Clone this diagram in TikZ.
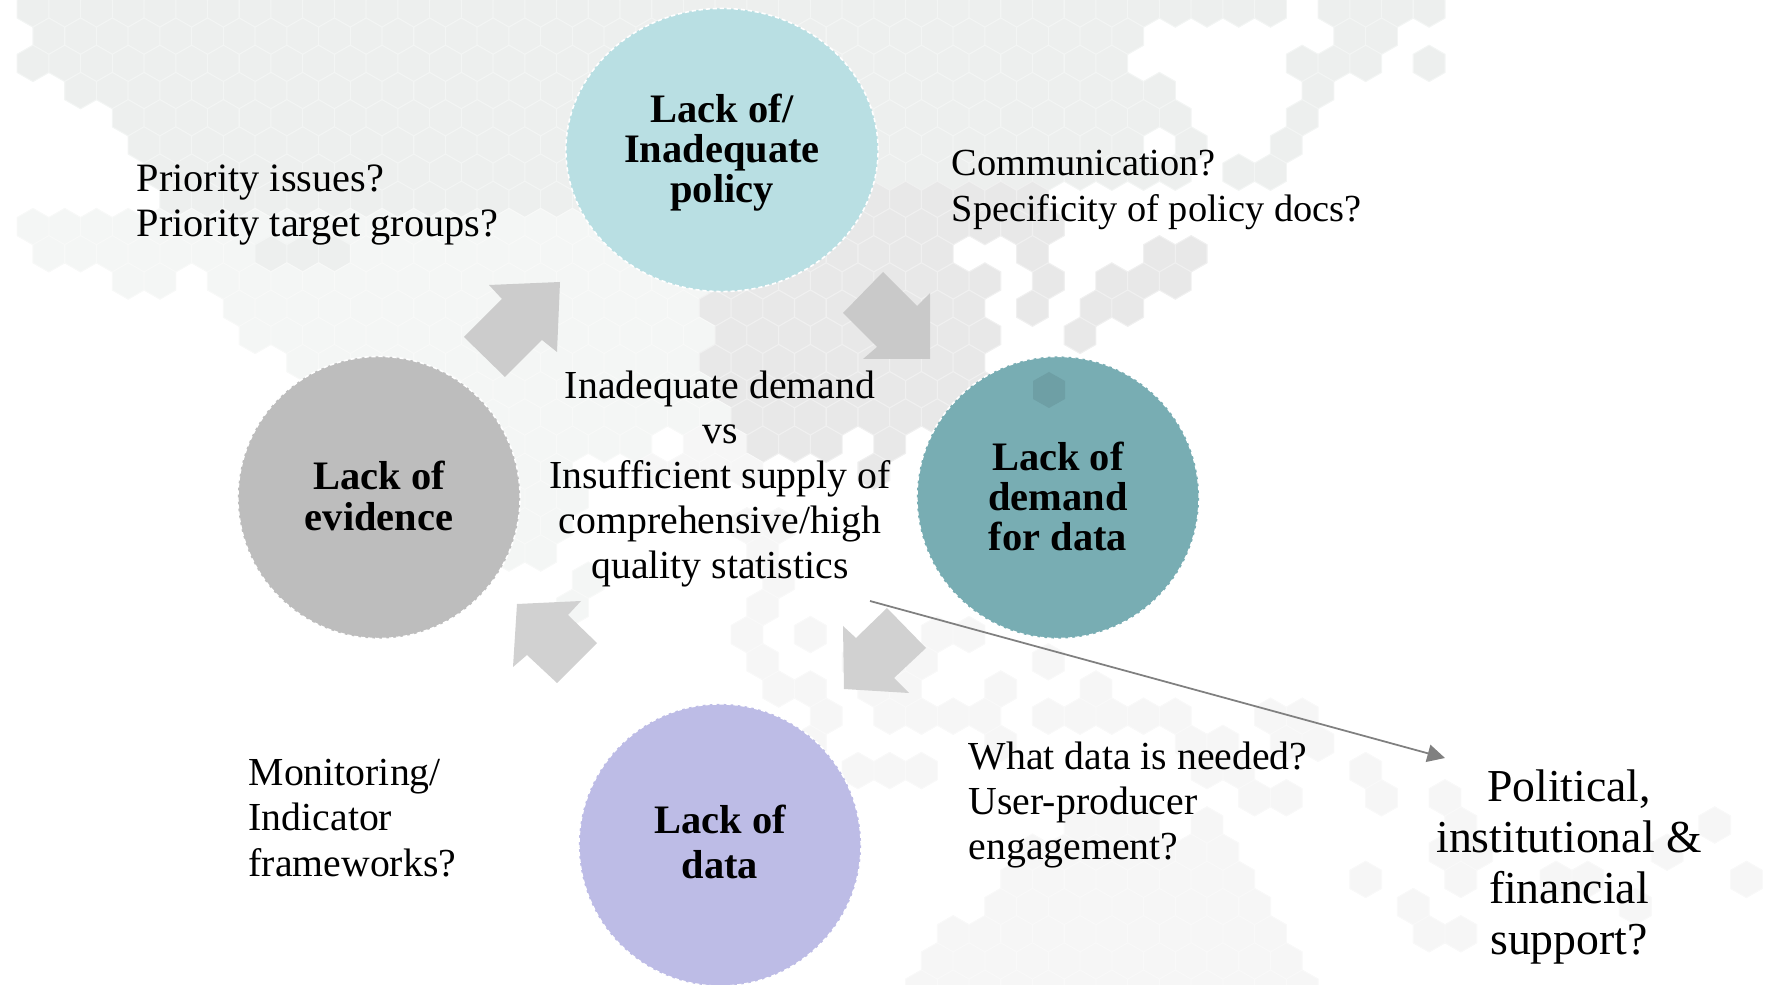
\documentclass[tikz,border=0pt]{standalone}
\usepackage{fontspec}
\setmainfont{Liberation Serif}
\usetikzlibrary{arrows.meta,shapes.geometric}
\definecolor{hexA}{HTML}{EDEFEE}
\definecolor{hexB}{HTML}{F4F6F5}
\definecolor{hexC}{HTML}{E8E8E8}
\definecolor{hexD}{HTML}{F6F6F6}
\definecolor{policyfill}{HTML}{B9DFE3}
\definecolor{demandfill}{HTML}{78ADB3}
\definecolor{datafill}{HTML}{BDBCE6}
\definecolor{evidencefill}{HTML}{BDBDBD}
\tikzset{
  hexcell/.pic = {
    \path[fill=#1, draw=#1!65!white, line width=0.3pt]
      (0,18.2) -- (15.87,9.1) -- (15.87,-9.1) -- (0,-18.2) -- (-15.87,-9.1) -- (-15.87,9.1) -- cycle;
  },
  lackcircle/.style = {ellipse, inner sep=0pt, align=center, draw=white, dash pattern=on 1.2pt off 0.8pt,
    line width=0.45pt, font=\fontsize{11.5}{11.5}\selectfont\bfseries},
  asktext/.style = {inner sep=0pt, anchor=west, align=left, font=\fontsize{11.3}{12.85}\selectfont},
  blockarrow/.style = {draw=none}
}
\begin{document}
\begin{tikzpicture}[x=0.01cm, y=-0.01cm]
\useasboundingbox (0,0) rectangle (1765,985);
\begin{scope}
\clip (0,0) rectangle (1765,985);
% background map, row/first/last/colour
\foreach \r/\a/\b/\c in {
  0/0/39/hexA, 0/41/44/hexA, 1/0/34/hexA, 1/41/42/hexA, 2/0/34/hexA, 2/40/42/hexA, 2/44/44/hexA,
  3/1/35/hexA, 3/40/40/hexA, 4/3/36/hexA, 4/40/40/hexA, 5/3/34/hexA, 5/36/36/hexA, 5/39/39/hexA,
  6/4/36/hexA, 6/38/39/hexA, 7/4/24/hexA, 7/25/31/hexC,
  8/0/24/hexB, 8/25/32/hexC,
  9/0/6/hexB, 9/7/9/hexA, 9/10/20/hexB, 9/21/28/hexC, 9/31/31/hexC, 9/35/36/hexC,
  10/3/4/hexB, 10/6/21/hexB, 10/22/30/hexC, 10/32/32/hexC, 10/34/36/hexC,
  11/6/20/hexB, 11/21/29/hexC, 11/31/31/hexC, 11/33/34/hexC,
  12/7/21/hexB, 12/22/30/hexC, 12/33/33/hexC,
  13/8/20/hexB, 13/21/29/hexC,
  14/10/21/hexB, 14/22/30/hexC,
  15/10/21/hexB, 15/22/28/hexC,
  16/10/19/hexB, 16/21/22/hexD, 16/23/25/hexC, 16/27/27/hexC,
  17/10/16/hexB, 17/19/22/hexD, 17/26/26/hexC,
  18/10/17/hexB, 19/10/16/hexB, 19/22/23/hexD, 20/10/16/hexB, 20/23/23/hexD,
  21/17/17/hexB, 21/23/23/hexD, 22/17/17/hexB, 22/23/23/hexD,
  23/22/22/hexD, 23/24/24/hexD, 23/28/29/hexD,
  24/23/23/hexD, 24/26/28/hexD, 24/32/32/hexD,
  25/23/24/hexD, 25/26/27/hexD, 25/30/30/hexD, 25/33/33/hexD,
  26/25/25/hexD, 26/27/30/hexD, 26/32/36/hexD, 26/39/40/hexD,
  27/23/24/hexD, 27/30/30/hexD, 27/36/37/hexD, 27/39/40/hexD,
  28/26/28/hexD, 28/37/38/hexD, 28/42/42/hexD,
  29/38/39/hexD, 29/42/42/hexD, 29/44/44/hexD,
  30/33/35/hexD, 30/37/37/hexD, 30/45/45/hexD, 30/53/53/hexD,
  31/31/37/hexD, 31/44/45/hexD, 31/51/51/hexD,
  32/31/38/hexD, 32/42/42/hexD, 32/45/45/hexD, 32/48/49/hexD, 32/54/54/hexD,
  33/30/38/hexD, 33/43/43/hexD, 33/50/50/hexD,
  34/29/39/hexD, 34/44/45/hexD,
  35/28/39/hexD, 36/28/40/hexD} {
  \foreach \k in {\a,...,\b} {
    \pgfmathsetmacro{\hexx}{33 + 31.73*\k + 15.87*mod(\r,2)}
    \pgfmathsetmacro{\hexy}{9 + 27.2*\r}
    \pic at (\hexx,\hexy) {hexcell=\c};
  }
}
\end{scope}

% block arrows
\fill[fill=black!20, blockarrow] (560,282) -- (489,285) -- (502,299) -- (464,337) -- (505,377) -- (542,340) -- (557,352) -- cycle;
\fill[fill=black!21, blockarrow] (883,272) -- (843,313) -- (877,347) -- (863,359) -- (930,359) -- (930,293) -- (917,306) -- cycle;
\fill[fill=black!18, blockarrow] (887,608) -- (926,648) -- (894,678) -- (909,693) -- (844,689) -- (843,626) -- (856,638) -- cycle;
\fill[fill=black!18, blockarrow] (581,601) -- (517,604) -- (513,667) -- (527,655) -- (557,683) -- (597,643) -- (568,615) -- cycle;

% the four circles
\node[lackcircle, fill=policyfill, minimum width=3.12cm, minimum height=2.83cm] (policy) at (722,150)
  {\rule{0pt}{9.6pt}Lack of/\\Inadequate\\policy};
\node[lackcircle, fill=demandfill, minimum width=2.82cm, minimum height=2.82cm] (demand) at (1058,497.5)
  {Lack of\\demand\\for data\rule[-0.7pt]{0pt}{1pt}};
\node[lackcircle, fill=datafill, minimum width=2.82cm, minimum height=2.82cm] (data) at (720,845)
  {Lack of\\[1.3pt]data\rule[-2pt]{0pt}{1pt}};
\node[lackcircle, fill=evidencefill, minimum width=2.82cm, minimum height=2.82cm] (evidence) at (379,497.5)
  {Lack of\\evidence\rule[-1pt]{0pt}{1pt}};
\fill[black!8!demandfill] (1049,372) -- (1065,381) -- (1065,399) -- (1049,408) -- (1033,399) -- (1033,381) -- cycle;

% questions
\node[asktext, font=\fontsize{11.45}{12.85}\selectfont] (priority) at (136,205) {Priority issues?\\Priority target groups?};
\node[asktext, font=\fontsize{10.9}{12.85}\selectfont] (communication) at (951,190) {Communication?\\Specificity of policy docs?};
\node[asktext] (monitoring) at (248,818) {Monitoring/\\Indicator\\frameworks?};
\node[asktext] (needed) at (968,805) {What data is needed?\\User-producer\\engagement?};
\node[asktext, anchor=center, align=center] (centre) at (720,479)
  {Inadequate demand\\vs\\Insufficient supply of\\comprehensive/high\\quality statistics};
\node[inner sep=0pt, align=center, font=\fontsize{13}{14.5}\selectfont] (support) at (1569,867)
  {Political,\\institutional \&\\financial\\support?};

\coordinate (linefrom) at (870,601);
\coordinate (lineto) at (1445,758);
\draw[black!50, line width=0.5pt, -{Triangle[length=5pt,width=5pt]}] (linefrom) -- (lineto);
\end{tikzpicture}
\end{document}
